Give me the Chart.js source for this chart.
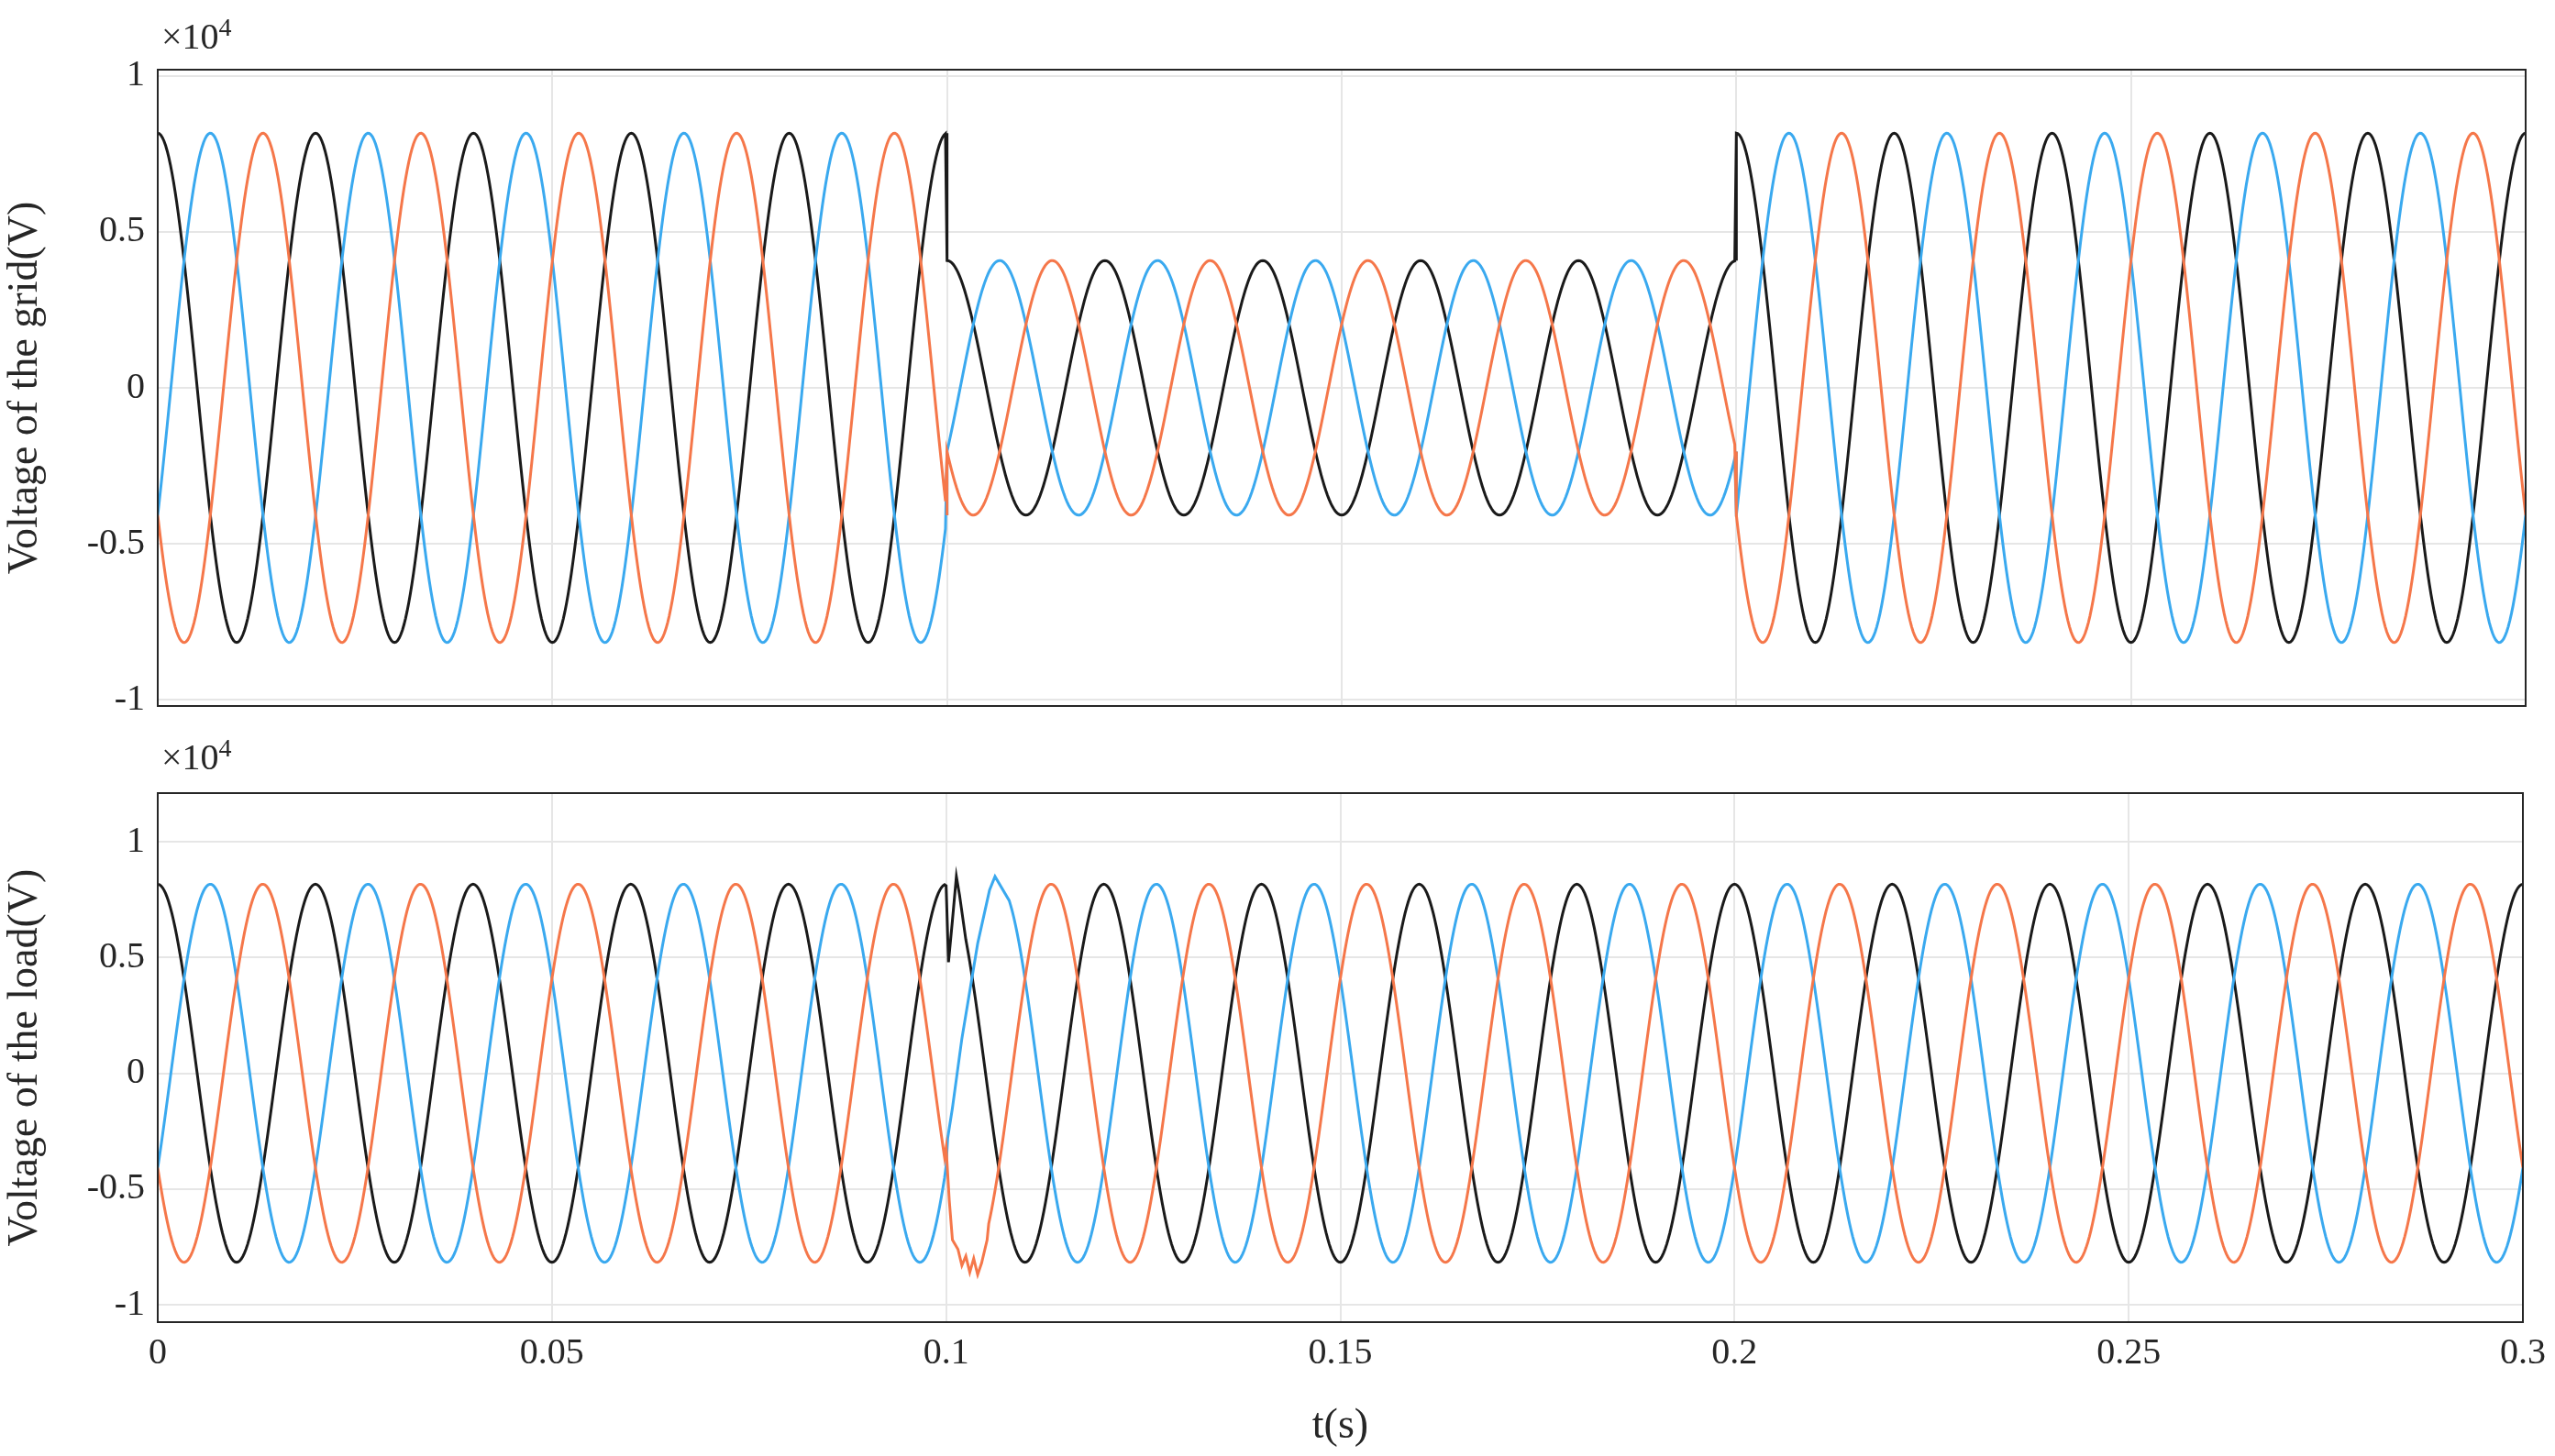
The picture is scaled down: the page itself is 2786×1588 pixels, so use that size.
<!DOCTYPE html>
<html>
<head>
<meta charset="utf-8">
<script src="https://cdn.jsdelivr.net/npm/chart.js@4.4.0/dist/chart.umd.min.js"></script>
<style>
  body { margin: 0; background: #fff; width: 2786px; height: 1588px; overflow: hidden; position: relative; font-family: "Liberation Serif", serif; }
  canvas { position: absolute; left: 0; }
  .exp { position: absolute; font-size: 40px; color: #262626; }
  .exp sup { font-size: 28px; }
</style>
</head>
<body>
<canvas id="gridChart" width="2786" height="808" style="top:0"></canvas>
<canvas id="loadChart" width="2786" height="798" style="top:790px"></canvas>
<div class="exp" style="left:176px; top:14px">×10<sup>4</sup></div>
<div class="exp" style="left:176px; top:800px">×10<sup>4</sup></div>
<script>
// waveform parameters
const freq = 50;                       // Hz, one period = 0.02 s
const peak = 8165;                     // V, normal peak
const sagPeak = 4080;                  // V, peak during the grid sag
const sagStart = 0.1, sagEnd = 0.2;
const phaseNames = ['black', 'blue', 'orange'];
const phaseShift = [0, -120, 120];     // degrees
const phaseColors = ['#1a1a1a', '#3aa9ef', '#f5774a'];
const xTicks = [0, 0.05, 0.1, 0.15, 0.2, 0.25, 0.3];
const yTicks = [-10000, -5000, 0, 5000, 10000];

// load voltage transient right after the sag starts (t, V)
const loadTransBlack = [[0.1, 8100], [0.1003, 4800], [0.1008, 6600], [0.1013, 8500], [0.1017, 7700], [0.1025, 5770]];
const loadTransBlue = [[0.1, -4000], [0.1002, -2800], [0.1008, -1500], [0.102, 1500], [0.104, 5600], [0.1055, 7900], [0.1062, 8500], [0.108, 7460]];
const loadTransOrange = [[0.1, -3200], [0.1004, -5500], [0.1008, -7200], [0.1015, -7600], [0.102, -8300], [0.1025, -7900], [0.103, -8600], [0.1035, -8000], [0.104, -8700], [0.1045, -8200], [0.1052, -7200]];

const dt = 0.0002;
const serif = "'Liberation Serif', 'DejaVu Serif', serif";

function wave(ampAt, shiftDeg, trans, stepAt) {
  const pts = [];
  const t0 = trans ? trans[0][0] : -1, t1 = trans ? trans[trans.length - 1][0] : -1;
  for (let i = 0; i <= 1500; i++) {
    const t = i * dt;
    if (trans && t >= t0 && t <= t1) continue;
    const v = ampAt(t) * Math.cos(2 * Math.PI * freq * t + shiftDeg * Math.PI / 180);
    pts.push({ x: t, y: v });
  }
  if (trans) trans.forEach(p => pts.push({ x: p[0], y: p[1] }));
  // vertical steps at sag edges
  if (stepAt) stepAt.forEach(ts => {
    const c = Math.cos(2 * Math.PI * freq * ts + shiftDeg * Math.PI / 180);
    pts.push({ x: ts, y: ampAt(ts - 1e-6) * c });
    pts.push({ x: ts + 1e-6, y: ampAt(ts + 1e-6) * c });
  });
  pts.sort((a, b) => a.x - b.x);
  return pts;
}

const gridAmp = t => (t >= sagStart && t < sagEnd) ? sagPeak : peak;
const loadAmp = t => peak;
const loadTrans = [loadTransBlack, loadTransBlue, loadTransOrange];

function makeChart(id, datasets, opts) {
  return new Chart(document.getElementById(id), {
    type: 'line',
    data: { datasets },
    options: {
      responsive: false, animation: false, parsing: false,
      events: [],
      layout: { padding: { top: opts.padTop, right: 32, left: 0, bottom: opts.padBottom } },
      plugins: { legend: { display: false }, tooltip: { enabled: false } },
      elements: { point: { radius: 0 }, line: { borderWidth: 3, tension: 0 } },
      scales: {
        x: {
          type: 'linear', min: 0, max: 0.3,
          afterBuildTicks: s => { s.ticks = xTicks.map(v => ({ value: v })); },
          afterFit: s => { s.height = opts.xHeight; },
          grid: { color: '#e6e6e6', lineWidth: 2, drawTicks: false },
          border: { color: '#262626', width: 2 },
          ticks: { display: opts.showX, color: '#262626', padding: 10, font: { family: serif, size: 40 }, callback: v => String(v) },
          title: { display: opts.showX, text: 't(s)', color: '#262626', padding: { top: 0 }, font: { family: serif, size: 46 } }
        },
        y: {
          min: opts.yMin, max: opts.yMax,
          afterBuildTicks: s => { s.ticks = yTicks.map(v => ({ value: v })); },
          afterFit: s => { s.width = 172; },
          grid: { color: '#e6e6e6', lineWidth: 2, drawTicks: false },
          border: { color: '#262626', width: 2 },
          ticks: { color: '#262626', padding: 14, font: { family: serif, size: 40 }, callback: v => String(v / 10000) },
          title: { display: true, text: opts.yTitle, color: '#262626', padding: 0, font: { family: serif, size: 46 } }
        }
      }
    },
    plugins: [{
      id: 'box',
      afterDraw(c) {
        const a = c.chartArea, g = c.ctx;
        g.save(); g.strokeStyle = '#262626'; g.lineWidth = 2;
        g.strokeRect(a.left, a.top, a.right - a.left, a.bottom - a.top);
        g.restore();
      }
    }]
  });
}

makeChart('gridChart', phaseNames.map((n, k) => ({
  label: n, borderColor: phaseColors[k],
  data: wave(gridAmp, phaseShift[k], null, [sagStart, sagEnd])
})).reverse(), { padTop: 76, padBottom: 2, xHeight: 0, showX: false, yMin: -10200, yMax: 10200, yTitle: 'Voltage of the grid(V)' });

makeChart('loadChart', phaseNames.map((n, k) => ({
  label: n, borderColor: phaseColors[k],
  data: wave(loadAmp, phaseShift[k], loadTrans[k], null)
})).reverse(), { padTop: 75, padBottom: 0, xHeight: 146, showX: true, yMin: -10750, yMax: 12100, yTitle: 'Voltage of the load(V)' });
</script>
</body>
</html>
